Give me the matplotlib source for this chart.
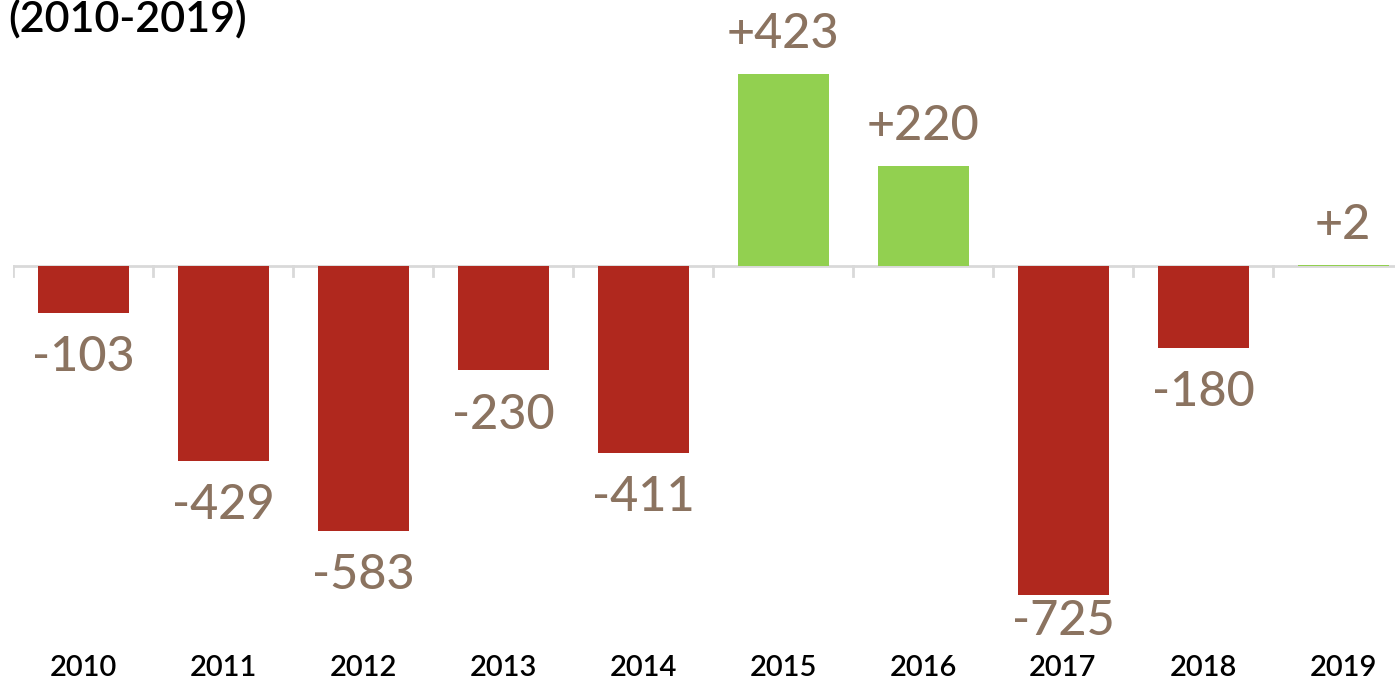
import matplotlib.pyplot as plt
import numpy as np

### data
years = ['2010', '2011', '2012', '2013', '2014', '2015', '2016', '2017', '2018', '2019']
changes = [-103, -429, -583, -230, -411, 423, 220, -725, -180, 2]
labels = ['-103', '-429', '-583', '-230', '-411', '+423', '+220', '-725', '-180', '+2']
title = '(2010-2019)'

red = '#B0281E'
green = '#92D050'
label_col = '#8B7360'
axis_col = '#D9D9D9'

plt.rcParams['font.family'] = ['Lato', 'DejaVu Sans']

fig = plt.figure(figsize=(13.95, 6.79), dpi=100)
# axes runs a bit past the right edge, like the original
ax = fig.add_axes([13 / 1395, 0, 1400 / 1395, 1])
ax.set_xlim(-0.5, 9.5)
ax.set_ylim(-910, 586)
ax.axis('off')

x = np.arange(len(years))
colors = [green if v > 0 else red for v in changes]
ax.bar(x, changes, width=0.65, color=colors, zorder=2)

# baseline + boundary ticks
ax.axhline(0, color=axis_col, lw=2, zorder=1)
for b in np.arange(-0.5, len(years), 1.0):
    ax.plot([b, b], [0, -22], color=axis_col, lw=2, zorder=1)

for xi, v, lab in zip(x, changes, labels):
    if v > 0:
        ax.annotate(lab, (xi, v), xytext=(0, 13), textcoords='offset points',
                    ha='center', va='bottom', fontsize=35, color=label_col,
                    fontweight='medium')
    else:
        # keep the label clear of the year row (the -725 one sits close to its bar)
        ypos = max(v - 49, -734)
        ax.text(xi, ypos, lab, ha='center', va='top', fontsize=35,
                color=label_col, fontweight='medium')

for xi, yr in zip(x, years):
    ax.text(xi, -885, yr, ha='center', va='center', fontsize=21,
            fontweight='semibold', color='black')

fig.text(8 / 1395, 1 - 31 / 679, title, ha='left', va='baseline',
         fontsize=31, fontweight='semibold', color='black')

fig.savefig('out.png', dpi=100)
